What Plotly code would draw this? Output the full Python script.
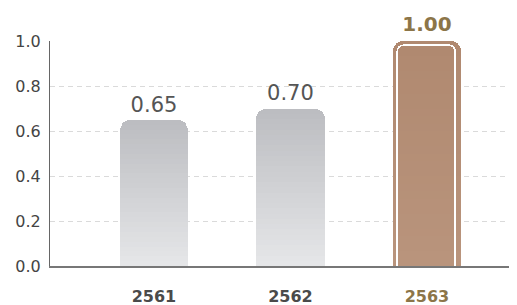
import plotly.graph_objects as go

# ---- data ----
categories = ["2561", "2562", "2563"]
values = [0.65, 0.70, 1.00]
value_labels = ["0.65", "0.70", "1.00"]
y_ticks = [0.0, 0.2, 0.4, 0.6, 0.8, 1.0]
y_tick_labels = ["0.0", "0.2", "0.4", "0.6", "0.8", "1.0"]

# ---- styles ----
GRAY_TOP = (188, 189, 193)
GRAY_BOT = (229, 230, 232)
BROWN_TOP = (176, 137, 112)
BROWN_BOT = (185, 148, 124)
HILITE = 2
N_SLICES = 30
FONT = "DejaVu Sans"


def mix(a, b, t):
    return "rgb(%d,%d,%d)" % tuple(round(a[i] + (b[i] - a[i]) * t) for i in range(3))


xs = list(range(len(categories)))
fig = go.Figure()

# gradient bars: stacked slices (bottom -> top)
for k in range(N_SLICES):
    t = k / (N_SLICES - 1)  # 0 bottom, 1 top
    colors = []
    for i in range(len(categories)):
        if i == HILITE:
            colors.append(mix(BROWN_BOT, BROWN_TOP, t))
        else:
            colors.append(mix(GRAY_BOT, GRAY_TOP, t))
    fig.add_trace(go.Bar(
        x=xs, y=[v / N_SLICES for v in values], width=0.5,
        marker=dict(color=colors, line=dict(width=0)),
        hoverinfo="skip", showlegend=False,
    ))

# inner white outline on the highlighted bar (bottom edge hidden below the axis)
inset = 0.022
below = 0.03
fig.add_trace(go.Bar(
    x=[xs[HILITE]], y=[values[HILITE] - inset + below], base=[-below], width=0.425,
    marker=dict(color="rgba(0,0,0,0)", line=dict(color="white", width=1.6), cornerradius=7),
    xaxis="x2", hoverinfo="skip", showlegend=False,
))

# value labels
for i in range(len(categories)):
    hl = i == HILITE
    fig.add_trace(go.Scatter(
        x=[xs[i]], y=[values[i]], mode="markers+text", text=[value_labels[i]],
        textposition="top center",
        marker=dict(size=3 if not hl else 6, opacity=0),
        textfont=dict(family=FONT, size=20 if hl else 21,
                      color="#8c7548" if hl else "#555555",
                      weight="bold" if hl else "normal"),
        cliponaxis=False, hoverinfo="skip", showlegend=False,
    ))

tick_text = []
for i, c in enumerate(categories):
    col = "#8c7548" if i == HILITE else "#4a4a4a"
    tick_text.append('<span style="color:%s">%s</span>' % (col, c))

xr = [-0.762, 2.66]
fig.update_layout(
    width=509, height=297,
    margin=dict(l=42, r=0, t=33, b=39, autoexpand=False),
    paper_bgcolor="white", plot_bgcolor="white",
    barmode="stack", bargap=0,
    barcornerradius=10,
    xaxis=dict(range=xr, tickvals=xs, ticktext=tick_text, showgrid=False,
               showline=True, linecolor="#777777", linewidth=1.5, zeroline=False,
               ticks="", ticklabelstandoff=15, automargin=False,
               tickfont=dict(family=FONT, size=16, color="#4a4a4a", weight="bold")),
    xaxis2=dict(range=xr, overlaying="x", visible=False),
    yaxis=dict(range=[0, 1], tickvals=y_ticks, ticktext=y_tick_labels,
               showgrid=True, gridcolor="#dadada", griddash="5px,4px", gridwidth=1,
               showline=True, linecolor="#666666", linewidth=1, zeroline=False,
               ticks="", ticklabelstandoff=5, automargin=False,
               tickfont=dict(family=FONT, size=16, color="#444444")),
)

fig.write_html("out.html")
